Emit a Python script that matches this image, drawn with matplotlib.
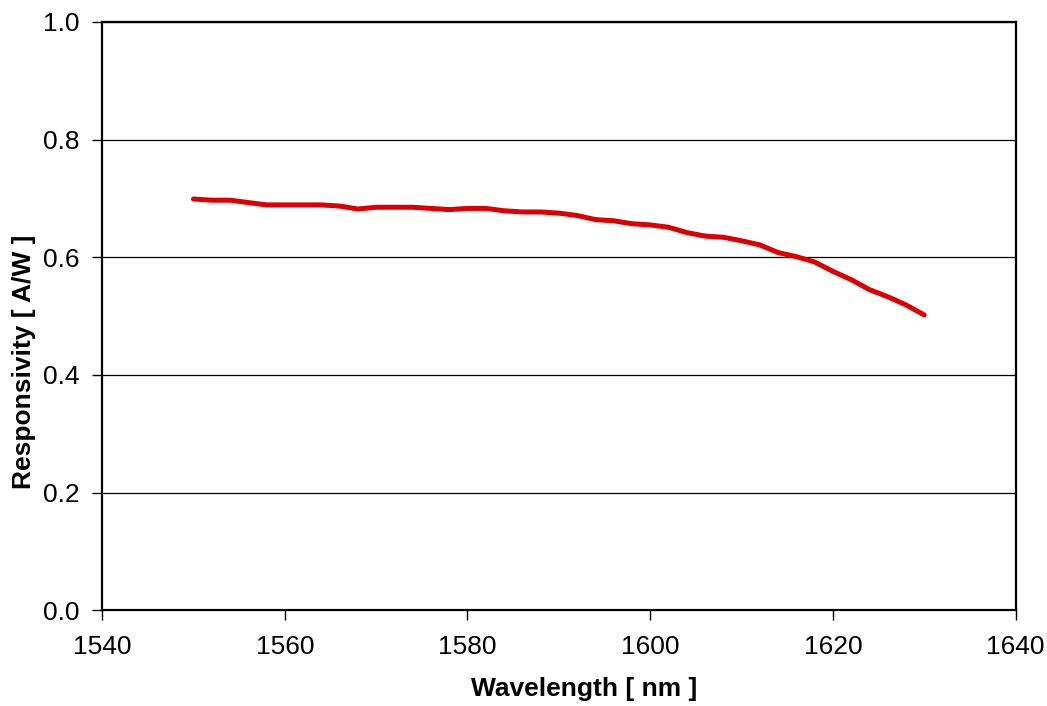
import numpy as np
import matplotlib
matplotlib.use('Agg')
import matplotlib.pyplot as plt

plt.rcParams['font.family'] = ['Liberation Sans', 'DejaVu Sans']

# wavelength in nm, responsivity in A/W
wavelength = [1550, 1552, 1554, 1556, 1558, 1560, 1562, 1564, 1566, 1568,
              1570, 1572, 1574, 1576, 1578, 1580, 1582, 1584, 1586, 1588,
              1590, 1592, 1594, 1596, 1598, 1600, 1602, 1604, 1606, 1608,
              1610, 1612, 1614, 1616, 1618, 1620, 1622, 1624, 1626, 1628,
              1630]
responsivity = [0.699, 0.697, 0.697, 0.693, 0.689, 0.689, 0.689, 0.689, 0.687, 0.682,
                0.685, 0.685, 0.685, 0.683, 0.681, 0.683, 0.683, 0.679, 0.677, 0.677,
                0.675, 0.671, 0.664, 0.662, 0.657, 0.655, 0.651, 0.642, 0.636, 0.634,
                0.628, 0.621, 0.608, 0.601, 0.592, 0.576, 0.562, 0.545, 0.533, 0.519,
                0.502]

x_ticks = [1540, 1560, 1580, 1600, 1620, 1640]
y_ticks = [0.0, 0.2, 0.4, 0.6, 0.8, 1.0]

fig = plt.figure(figsize=(10.47, 7.06), dpi=100)
ax = fig.add_axes([0.0975, 0.1355, 0.8725, 0.8335])

ax.plot(wavelength, responsivity, color='#dd0000', linewidth=3.6,
        solid_capstyle='round', solid_joinstyle='round', zorder=3)

ax.set_xlim(1540, 1640)
ax.set_ylim(0, 1.0)
ax.set_xticks(x_ticks)
ax.set_yticks(y_ticks)
ax.set_yticklabels([f'{v:.1f}' for v in y_ticks])

ax.yaxis.grid(True, color='black', linewidth=0.9)
ax.set_axisbelow(True)

for sp in ax.spines.values():
    sp.set_linewidth(1.6)
    sp.set_color('black')

ax.tick_params(axis='both', direction='out', length=7, width=1.0,
               labelsize=19, color='black')
ax.tick_params(axis='x', pad=11)
ax.tick_params(axis='y', pad=9)

ax.set_xlabel('Wavelength [ nm ]', fontsize=19, fontweight='bold')
ax.set_ylabel('Responsivity [ A/W ]', fontsize=19, fontweight='bold')
# labels sit a bit off-centre in the original
ax.xaxis.set_label_coords(0.528, -0.113)
ax.yaxis.set_label_coords(-0.072, 0.422)

fig.savefig('out.png', dpi=100)
